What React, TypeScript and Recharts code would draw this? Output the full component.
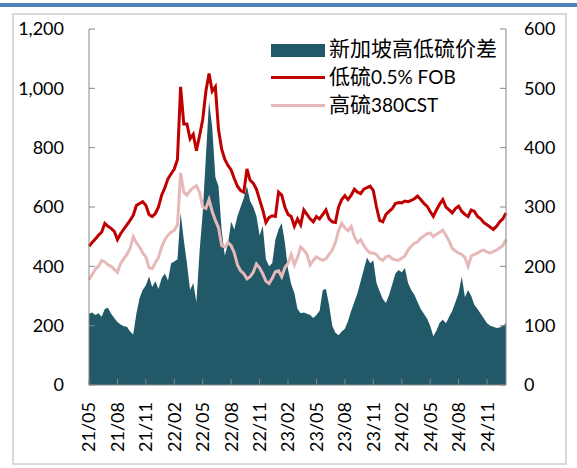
import React from 'react';
import { ComposedChart, Area, Line, XAxis, YAxis, Legend } from 'recharts';

// x ticks (quarterly) — month offsets from 2021/05 and their labels
const tickLabels = ['21/05', '21/08', '21/11', '22/02', '22/05', '22/08', '22/11', '23/02', '23/05', '23/08', '23/11', '24/02', '24/05', '24/08', '24/11'];
const tickMonths = [0, 3, 6, 9, 12, 15, 18, 21, 24, 27, 30, 33, 36, 39, 42];
const pointsPerMonth = 3;

// 低硫0.5% FOB (left axis, USD/t), three readings per month from 2021/05
const lsfo = [
  468, 480, 492, 505, 515, 545, 535, 528, 518, 490, 510, 525, 540, 555, 572,
  605, 612, 618, 606, 575, 568, 578, 600, 640, 665, 695, 712, 728, 760, 1005,
  880, 880, 830, 845, 790, 840, 895, 990, 1050, 990, 1005, 860, 795, 760, 740,
  725, 695, 670, 655, 650, 728, 690, 680, 660, 625, 590, 548, 565, 570, 568,
  650, 640, 600, 575, 568, 535, 560, 540, 590, 575, 560, 550, 568, 560, 575,
  590, 560, 550, 548, 600, 625, 638, 625, 640, 660, 650, 645, 660, 665, 670,
  655, 600, 555, 550, 575, 585, 595, 612, 615, 614, 620, 618, 622, 628, 637,
  625, 612, 603, 585, 568, 590, 610, 625, 600, 590, 580, 595, 603, 585, 575,
  568, 590, 585, 568, 560, 547, 540, 532, 524, 535, 550, 560, 580,
];

// 高硫380CST (left axis, USD/t)
const hsfo = [
  355, 372, 390, 400, 420, 415, 405, 400, 390, 380, 410, 425, 440, 460, 500,
  480, 465, 445, 432, 395, 392, 412, 430, 465, 490, 505, 515, 522, 540, 715,
  650, 640, 655, 665, 672, 650, 600, 595, 625, 585, 555, 530, 470, 465, 480,
  470, 445, 405, 385, 375, 358, 365, 380, 408, 395, 375, 350, 342, 360, 382,
  385, 365, 395, 410, 440, 405, 430, 465, 455, 440, 405, 420, 432, 425, 420,
  425, 440, 455, 480, 520, 545, 530, 520, 535, 500, 480, 490, 470, 455, 445,
  445, 440, 425, 420, 432, 435, 425, 422, 420, 428, 435, 455, 468, 478, 482,
  495, 502, 510, 512, 500, 508, 515, 522, 505, 485, 460, 452, 445, 440, 430,
  400, 435, 440, 445, 452, 455, 448, 445, 450, 455, 462, 470, 490,
];

// 新加坡高低硫价差 (right axis, USD/t)
const spread = [
  120, 122, 118, 121, 115, 128, 130, 120, 113, 106, 102, 99, 98, 90, 85,
  120, 146, 160, 168, 183, 165, 175, 162, 180, 188, 176, 205, 208, 212, 290,
  245, 205, 160, 172, 140, 225, 290, 385, 478, 435, 350, 335, 260, 218, 238,
  275, 262, 285, 300, 315, 335, 310, 300, 285, 252, 268, 212, 200, 205, 245,
  262, 273, 240, 195, 170, 155, 128, 121, 122, 120, 118, 113, 118, 125, 160,
  162, 135, 100, 88, 84, 90, 95, 108, 125, 140, 155, 175, 195, 215, 205,
  210, 172, 158, 145, 138, 152, 170, 188, 194, 190, 197, 172, 160, 152, 140,
  128, 120, 112, 100, 82, 92, 105, 110, 104, 115, 125, 140, 155, 183, 148,
  160, 150, 135, 128, 120, 112, 104, 100, 98, 96, 97, 100, 104,
];

const leftTicks = [0, 200, 400, 600, 800, 1000, 1200];
const rightTicks = [0, 100, 200, 300, 400, 500, 600];

const seriesNames = {
  spread: '新加坡高低硫价差',
  lsfo: '低硫0.5% FOB',
  hsfo: '高硫380CST',
};
const seriesColors = {
  spread: '#215968',
  lsfo: '#C00000',
  hsfo: '#E6B9B8',
};
const legendOrder = ['spread', 'lsfo', 'hsfo'];

const data = lsfo.map((v, i) => ({
  m: i / pointsPerMonth,
  lsfo: v,
  hsfo: hsfo[i],
  spread: spread[i],
}));

const FONT = 'Lato, "Noto Sans", sans-serif';
const AXIS_GRAY = '#868686';

const XTick = (props: any) => {
  const { x, y, payload } = props;
  const idx = tickMonths.indexOf(payload.value);
  const label = idx >= 0 ? tickLabels[idx] : '';
  return (
    <text
      x={x}
      y={y}
      transform={`rotate(-90, ${x}, ${y})`}
      textAnchor="end"
      dy="0.36em"
      fontSize={18}
      fontFamily={FONT}
      fill="#000"
    >
      {label}
    </text>
  );
};

const cjk = /([\u3400-\u9fff]+)/;
const renderRuns = (s: string) =>
  s
    .split(cjk)
    .filter(Boolean)
    .map((part, i) => {
      const isCjk = /[\u3400-\u9fff]/.test(part);
      return (
        <span
          key={i}
          style={{
            fontSize: isCjk ? 21 : 19,
            fontFamily: isCjk ? '"Noto Sans CJK SC", sans-serif' : FONT,
          }}
        >
          {part}
        </span>
      );
    });

const renderLegend = (props: any) => {
  const items = [...(props.payload || [])].sort(
    (a: any, b: any) => legendOrder.indexOf(a.dataKey) - legendOrder.indexOf(b.dataKey)
  );
  return (
    <div style={{ display: 'flex', flexDirection: 'column' }}>
      {items.map((it: any) => {
        const key = it.dataKey as keyof typeof seriesColors;
        const color = seriesColors[key];
        return (
          <div key={String(key)} style={{ display: 'flex', alignItems: 'center', height: 28, whiteSpace: 'nowrap', color: '#000' }}>
            <div style={{ width: 54, display: 'flex', alignItems: 'center' }}>
              {key === 'spread' ? (
                <div style={{ width: 54, height: 13, background: color, marginTop: 3 }} />
              ) : (
                <div style={{ width: 54, height: 3, background: color }} />
              )}
            </div>
            <span style={{ marginLeft: 4, lineHeight: '28px' }}>{renderRuns(seriesNames[key])}</span>
          </div>
        );
      })}
    </div>
  );
};

export default function App() {
  return (
    <div style={{ position: 'absolute', left: 0, top: 0, width: 577, height: 468, background: '#fff', overflow: 'hidden' }}>
      <div style={{ position: 'absolute', left: 0, top: 3, width: 577, height: 4, background: '#4F81BD' }} />
      <div
        style={{
          position: 'absolute',
          left: 12,
          top: 13,
          width: 555,
          height: 452,
          border: '2px solid #D9D9D9',
          boxSizing: 'border-box',
        }}
      />
      <div style={{ position: 'absolute', left: 0, top: 0 }}>
        <ComposedChart width={577} height={468} data={data} margin={{ top: 29, right: 0, bottom: 0, left: 0 }}>
          <XAxis
            dataKey="m"
            type="number"
            domain={[0, 44]}
            ticks={tickMonths}
            height={83}
            tickSize={-6}
            tickMargin={23}
            tick={<XTick />}
            axisLine={{ stroke: AXIS_GRAY }}
            tickLine={{ stroke: AXIS_GRAY }}
            interval={0}
          />
          <YAxis
            yAxisId="left"
            orientation="left"
            width={89}
            domain={[0, 1200]}
            ticks={leftTicks}
            interval={0}
            tickFormatter={(v: number) => v.toLocaleString('en-US')}
            tickSize={-6}
            tickMargin={31}
            axisLine={{ stroke: AXIS_GRAY }}
            tickLine={{ stroke: AXIS_GRAY }}
            tick={{ fill: '#000', fontSize: 18, fontFamily: FONT }}
          />
          <YAxis
            yAxisId="right"
            orientation="right"
            width={71}
            domain={[0, 600]}
            ticks={rightTicks}
            interval={0}
            tickSize={-6}
            tickMargin={24}
            axisLine={{ stroke: AXIS_GRAY }}
            tickLine={{ stroke: AXIS_GRAY }}
            tick={{ fill: '#000', fontSize: 18, fontFamily: FONT }}
          />
          <Legend
            layout="vertical"
            align="center"
            verticalAlign="middle"
            content={renderLegend}
            wrapperStyle={{ left: 271, top: 35, width: 'auto', height: 'auto' }}
          />
          <Area
            yAxisId="right"
            dataKey="spread"
            name={seriesNames.spread}
            type="linear"
            fill={seriesColors.spread}
            fillOpacity={1}
            stroke="none"
            isAnimationActive={false}
          />
          <Line
            yAxisId="left"
            dataKey="lsfo"
            name={seriesNames.lsfo}
            type="linear"
            stroke={seriesColors.lsfo}
            strokeWidth={3}
            dot={false}
            isAnimationActive={false}
          />
          <Line
            yAxisId="left"
            dataKey="hsfo"
            name={seriesNames.hsfo}
            type="linear"
            stroke={seriesColors.hsfo}
            strokeWidth={3}
            dot={false}
            isAnimationActive={false}
          />
        </ComposedChart>
      </div>
    </div>
  );
}
